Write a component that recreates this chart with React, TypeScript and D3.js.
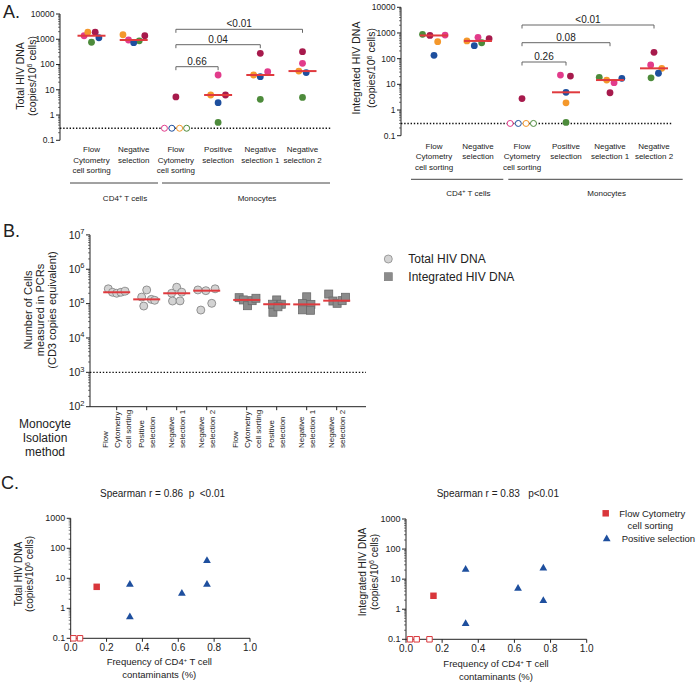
import React from 'react';
import * as d3 from 'd3';

const FONT = "'Liberation Sans', Arial, Helvetica, sans-serif";
const TEXT = '#222';
const AXIS = '#222';
const MEDIAN = '#e03a3e';

// ---------- Panel A data (donor order: pink, orange, dark red, green, blue) ----------
const DONORS = ['pink', 'orange', 'darkred', 'green', 'blue'];
const DONOR_COLORS = ['#e23b8b', '#f4982c', '#a71a4c', '#4d8b3b', '#1e4f9e'];
const A_CATEGORIES = ['CD4 FCS', 'CD4 Neg', 'Mono FCS', 'Mono Pos', 'Mono Neg1', 'Mono Neg2'];
const A_CATEGORY_LABELS = [
  ['Flow', 'Cytometry', 'cell sorting'],
  ['Negative', 'selection'],
  ['Flow', 'Cytometry', 'cell sorting'],
  ['Positive', 'selection'],
  ['Negative', 'selection 1'],
  ['Negative', 'selection 2'],
];
const A_TICKS = [0.1, 1, 10, 100, 1000, 10000];
const LOD = 0.3;
// null = undetectable (plotted as open symbol at the detection limit)
const TOTAL_DNA = [
  [1380, 1900, 1900, 760, 1150],
  [935, 1510, 1380, 870, 730],
  [null, null, 5.2, null, null],
  [38.5, 6.2, 6.2, 0.51, 3.1],
  [52, 38.5, 277, 4.2, 33],
  [112, 55, 322, 5.0, 48],
];
const TOTAL_SPREAD = [
  [-2, -1, 1, 0, 2],
  [-1.4, -2.9, 3, 1.5, 0],
  [-3.1, 1, 0, 2.9, -1.1],
  [0, -2, 2, 0, 0],
  [2, -1.8, 0, 0, 0],
  [0, -1, 0, 0, 1],
];
const INTEGRATED_DNA = [
  [830, 457, 800, 890, 135],
  [680, 490, 600, 417, 320],
  [null, null, 2.8, null, null],
  [23, 1.9, 21, 0.33, 4.9],
  [11.6, 14.7, 4.7, 18.8, 17.2],
  [57, 42, 177, 18, 27],
];
const INTEGRATED_SPREAD = [
  [3, 1, -1.1, -3.1, 0],
  [0, -3, 3, 1, -1],
  [-3.2, 1.1, 0, 3.1, -1],
  [-1.5, 0, 1.2, 0, 0],
  [1.1, -0.9, 0, -2.9, 3.2],
  [-0.9, 2.1, 0, -0.8, 1.2],
];
const TOTAL_P = [
  { from: 2, to: 3, label: '0.66' },
  { from: 2, to: 4, label: '0.04' },
  { from: 2, to: 5, label: '<0.01' },
];
const INTEGRATED_P = [
  { from: 2, to: 3, label: '0.26' },
  { from: 2, to: 4, label: '0.08' },
  { from: 2, to: 5, label: '<0.01' },
];

// ---------- Panel B data ----------
const B_CATEGORY_LABELS = [
  ['Flow', 'Cytometry', 'cell sorting'],
  ['Positive', 'selection'],
  ['Negative', 'selection 1'],
  ['Negative', 'selection 2'],
];
const B_TICKS = [1e2, 1e3, 1e4, 1e5, 1e6, 1e7];
const B_THRESHOLD = 1e3;
const B_TOTAL = [
  [2.7e5, 2.14e5, 2.0e5, 2.14e5, 2.3e5],
  [2.5e5, 1.55e5, 1.33e5, 1.25e5, 8.5e4],
  [3.0e5, 2.15e5, 2.0e5, 1.19e5, 1.2e5],
  [2.5e5, 2.38e5, 2.7e5, 1.02e5, 6.5e4],
];
const B_TOTAL_SPREAD = [
  [-2, -1, 0, 1, 2],
  [0, -1.2, 1.1, 1.9, -0.7],
  [0, 1.2, -1.2, -1, 0.8],
  [-2.1, -0.2, 2, 1.2, -1.4],
];
const B_INTEGRATED = [
  [1.49e5, 1.28e5, 8.7e4, 1.22e5, 1.43e5],
  [1.28e5, 9.6e4, 9.6e4, 5.6e4, 8.1e4],
  [1.58e5, 1.0e5, 9.5e4, 6.6e4, 6.4e4],
  [1.9e5, 1.19e5, 1.02e5, 1.22e5, 1.53e5],
];
const B_INTEGRATED_SPREAD = [
  [-1.8, -0.8, 0.2, 1.3, 2.2],
  [0, -1, 1.1, -0.9, 0.3],
  [0, -1, 1, -1, 0.9],
  [-1.9, -0.9, 0.1, 1.3, 2.1],
];

// ---------- Panel C data ----------
const C_X_TICKS = [0, 0.2, 0.4, 0.6, 0.8, 1.0];
const C_Y_TICKS = [0.1, 1, 10, 100, 1000];
const C_FLOW_TOTAL = [{ x: 0.145, y: 5.2 }];
const C_FLOW_TOTAL_UND = [0.015, 0.052];
const C_POS_TOTAL = [
  { x: 0.76, y: 38.5 }, { x: 0.76, y: 6.2 }, { x: 0.33, y: 6.2 }, { x: 0.33, y: 0.51 }, { x: 0.62, y: 3.1 },
];
const C_FLOW_INT = [{ x: 0.152, y: 2.8 }];
const C_FLOW_INT_UND = [0.022, 0.059, 0.13];
const C_POS_INT = [
  { x: 0.76, y: 23 }, { x: 0.76, y: 1.9 }, { x: 0.33, y: 21 }, { x: 0.33, y: 0.33 }, { x: 0.62, y: 4.9 },
];

// ---------- helpers ----------
function logMinors(domain: number[]) {
  const out: number[] = [];
  const a = Math.round(Math.log10(domain[0]));
  const b = Math.round(Math.log10(domain[1]));
  for (let e = a; e < b; e++) for (let k = 2; k < 10; k++) out.push(k * Math.pow(10, e));
  return out;
}

function LogAxis({ x, scale, ticks, fmt, fontSize, majorLen = 4, minorLen = 2 }: any) {
  const dom = scale.domain();
  return (
    <g>
      <line x1={x} x2={x} y1={scale(dom[0])} y2={scale(dom[1])} stroke={AXIS} strokeWidth={1} />
      {logMinors(dom).map((v, i) => (
        <line key={'m' + i} x1={x - minorLen} x2={x} y1={scale(v)} y2={scale(v)} stroke={AXIS} strokeWidth={0.6} />
      ))}
      {ticks.map((v: number, i: number) => (
        <g key={'t' + i}>
          <line x1={x - majorLen} x2={x} y1={scale(v)} y2={scale(v)} stroke={AXIS} strokeWidth={1} />
          <text x={x - majorLen - 1.5} y={scale(v)} dy="0.35em" textAnchor="end" fontSize={fontSize} fill={TEXT}>
            {fmt(v)}
          </text>
        </g>
      ))}
    </g>
  );
}

const plainFmt = (v: number) => (v < 1 ? String(v) : d3.format('d')(v));

function CopiesLabel() {
  return (
    <>
      (copies/10<tspan dy={-3.5} fontSize={7}>6</tspan>
      <tspan dy={3.5}> cells)</tspan>
    </>
  );
}

function CD4Label({ suffix }: { suffix: string }) {
  return (
    <>
      CD4<tspan dy={-3} fontSize={5.5}>+</tspan>
      <tspan dy={3}>{suffix}</tspan>
    </>
  );
}

// ---------- Panel A ----------
function PanelA({ cfg, values, spread, pvals, title }: any) {
  const y = d3.scaleLog().domain([0.1, 10000]).range(cfg.yRange);
  const x = d3.scalePoint<number>().domain(d3.range(A_CATEGORIES.length)).range(cfg.xRange);
  const step = 3.7;
  const r = 3.4;
  return (
    <g>
      <LogAxis x={cfg.axisX} scale={y} ticks={A_TICKS} fmt={plainFmt} fontSize={8.5} />
      <line x1={cfg.axisX} x2={cfg.lodX2} y1={y(LOD)} y2={y(LOD)} stroke="#111" strokeWidth={1.4} strokeDasharray="1.4,1.8" />
      <text transform={`translate(${cfg.titleX[0]},${cfg.titleCY}) rotate(-90)`} textAnchor="middle" dy="0.35em" fontSize={10.5} fill={TEXT}>
        {title}
      </text>
      <text transform={`translate(${cfg.titleX[1]},${cfg.titleCY}) rotate(-90)`} textAnchor="middle" dy="0.35em" fontSize={10.5} fill={TEXT}>
        <CopiesLabel />
      </text>
      {values.map((grp: (number | null)[], gi: number) => (
        <g key={'g' + gi}>
          {grp.map((v, di) => {
            const cx = (x(gi) as number) + spread[gi][di] * step;
            if (v == null)
              return <circle key={di} cx={cx} cy={y(LOD)} r={r - 0.4} fill="#fff" stroke={DONOR_COLORS[di]} strokeWidth={1} />;
            return <circle key={di} cx={cx} cy={y(v)} r={r} fill={DONOR_COLORS[di]} />;
          })}
          {grp.every((v) => v != null) && (
            <line
              x1={(x(gi) as number) - 14}
              x2={(x(gi) as number) + 14}
              y1={y(d3.median(grp as number[]) as number)}
              y2={y(d3.median(grp as number[]) as number)}
              stroke={MEDIAN}
              strokeWidth={2}
            />
          )}
        </g>
      ))}
      {A_CATEGORY_LABELS.map((lines, i) => (
        <text key={'c' + i} x={x(i)} y={cfg.labelY} textAnchor="middle" fontSize={8} fill={TEXT}>
          {lines.map((ln, j) => (
            <tspan key={j} x={x(i)} dy={j === 0 ? 0 : 10.5}>
              {ln}
            </tspan>
          ))}
        </text>
      ))}
      {cfg.groups.map((g: any, i: number) => (
        <g key={'gr' + i}>
          <line x1={g.x1} x2={g.x2} y1={cfg.groupLineY} y2={cfg.groupLineY} stroke="#444" strokeWidth={1} />
          <text x={g.tx} y={cfg.groupTextY} textAnchor="middle" fontSize={8} fill={TEXT}>
            {i === 0 ? <CD4Label suffix=" T cells" /> : 'Monocytes'}
          </text>
        </g>
      ))}
      {pvals.map((p: any, i: number) => {
        const by = cfg.bracketY[i];
        const x1 = x(p.from) as number;
        const x2 = x(p.to) as number;
        return (
          <g key={'p' + i}>
            <path d={`M${x1},${by + 3.5}V${by}H${x2}V${by + 3.5}`} fill="none" stroke="#666" strokeWidth={1} />
            <text x={(x1 + x2) / 2} y={by - 2.2} textAnchor="middle" fontSize={10} fill={TEXT}>
              {p.label}
            </text>
          </g>
        );
      })}
    </g>
  );
}

// ---------- Panel B ----------
function PanelB() {
  const y = d3.scaleLog().domain([1e2, 1e7]).range([406.7, 234.9]);
  const xi = d3.scaleLinear().domain([0, 7 + 1 / 3]).range([116.7, 336.7]);
  const pos = (i: number) => xi(i + (i >= 4 ? 1 / 3 : 0));
  const step = 4.2;
  const expFmt = (v: number) => (
    <>
      10<tspan dy={-4.5} fontSize={7.5}>{Math.round(Math.log10(v))}</tspan>
    </>
  );
  const axisX = 90;
  const axisEnd = 366;
  const allLabels = [...B_CATEGORY_LABELS, ...B_CATEGORY_LABELS];
  return (
    <g>
      <LogAxis x={axisX} scale={y} ticks={B_TICKS} fmt={expFmt} fontSize={10.5} majorLen={4} minorLen={2} />
      <line x1={axisX} x2={axisEnd} y1={y(1e2)} y2={y(1e2)} stroke={AXIS} strokeWidth={1} />
      <line x1={axisX} x2={axisEnd} y1={y(B_THRESHOLD)} y2={y(B_THRESHOLD)} stroke="#111" strokeWidth={1.4} strokeDasharray="1.4,1.8" />
      {allLabels.map((lines, i) => (
        <g key={'bl' + i}>
          <line x1={pos(i)} x2={pos(i)} y1={y(1e2)} y2={y(1e2) + 3.5} stroke={AXIS} strokeWidth={1} />
          {lines.map((ln, j) => (
            <text
              key={j}
              transform={`translate(${pos(i) + (j - (lines.length - 1) / 2) * 11.5},448) rotate(-90)`}
              dy="0.35em"
              textAnchor="start"
              fontSize={8}
              fill={TEXT}
            >
              {ln}
            </text>
          ))}
        </g>
      ))}
      {B_TOTAL.map((grp, gi) => (
        <g key={'bt' + gi}>
          {grp.map((v, k) => (
            <circle key={k} cx={pos(gi) + B_TOTAL_SPREAD[gi][k] * step} cy={y(v)} r={4} fill="#d3d3d3" stroke="#7d7d7d" strokeWidth={0.8} />
          ))}
          <line x1={pos(gi) - 13.5} x2={pos(gi) + 13.5} y1={y(d3.median(grp) as number)} y2={y(d3.median(grp) as number)} stroke={MEDIAN} strokeWidth={2} />
        </g>
      ))}
      {B_INTEGRATED.map((grp, gi) => {
        const c = pos(gi + 4);
        return (
          <g key={'bi' + gi}>
            {grp.map((v, k) => (
              <rect key={k} x={c + B_INTEGRATED_SPREAD[gi][k] * step - 4} y={y(v) - 4} width={8} height={8} fill="#8b8b8b" stroke="#6a6a6a" strokeWidth={0.8} />
            ))}
            <line x1={c - 13.5} x2={c + 13.5} y1={y(d3.median(grp) as number)} y2={y(d3.median(grp) as number)} stroke={MEDIAN} strokeWidth={2} />
          </g>
        );
      })}
      {['Number of Cells', 'measured in PCRs', '(CD3 copies equivalent)'].map((t, i) => (
        <text key={t} transform={`translate(${28.3 + i * 11.7},310) rotate(-90)`} textAnchor="middle" dy="0.35em" fontSize={11} fill={TEXT}>
          {t}
        </text>
      ))}
      {['Monocyte', 'Isolation', 'method'].map((t, i) => (
        <text key={t} x={45} y={428 + i * 13.8} textAnchor="middle" fontSize={12} fill={TEXT}>
          {t}
        </text>
      ))}
      <circle cx={388.3} cy={259} r={4} fill="#d3d3d3" stroke="#8a8a8a" strokeWidth={0.8} />
      <text x={408.3} y={259} dy="0.35em" fontSize={12} fill={TEXT}>Total HIV DNA</text>
      <rect x={384.3} y={272.7} width={8} height={8} fill="#8b8b8b" stroke="#777" strokeWidth={0.6} />
      <text x={408.3} y={276.7} dy="0.35em" fontSize={12} fill={TEXT}>Integrated HIV DNA</text>
    </g>
  );
}

// ---------- Panel C ----------
function PanelC({ cfg, flow, flowUnd, pos, title, spearman }: any) {
  const x = d3.scaleLinear().domain([0, 1]).range(cfg.xRange);
  const y = d3.scaleLog().domain([0.1, 1000]).range(cfg.yRange);
  const tri = d3.symbol(d3.symbolTriangle, 26)() as string;
  const sq = d3.symbol(d3.symbolSquare, 42)() as string;
  const sqOpen = d3.symbol(d3.symbolSquare, 30)() as string;
  const base = y(0.1);
  return (
    <g>
      <LogAxis x={x(0)} scale={y} ticks={C_Y_TICKS} fmt={plainFmt} fontSize={9} />
      <line x1={x(0)} x2={x(1)} y1={base} y2={base} stroke={AXIS} strokeWidth={1} />
      {C_X_TICKS.map((t) => (
        <g key={t}>
          <line x1={x(t)} x2={x(t)} y1={base} y2={base + 3.5} stroke={AXIS} strokeWidth={1} />
          <text x={x(t)} y={base + 12.5} textAnchor="middle" fontSize={10} fill={TEXT}>
            {d3.format('.1f')(t)}
          </text>
        </g>
      ))}
      <text transform={`translate(${cfg.titleX[0]},${cfg.titleCY}) rotate(-90)`} textAnchor="middle" dy="0.35em" fontSize={10} fill={TEXT}>
        {title}
      </text>
      <text transform={`translate(${cfg.titleX[1]},${cfg.titleCY}) rotate(-90)`} textAnchor="middle" dy="0.35em" fontSize={10} fill={TEXT}>
        <CopiesLabel />
      </text>
      <text x={cfg.xTitleCX} y={cfg.xTitleY[0]} textAnchor="middle" fontSize={9.5} fill={TEXT}>
        Frequency of <CD4Label suffix=" T cell" />
      </text>
      <text x={cfg.xTitleCX} y={cfg.xTitleY[1]} textAnchor="middle" fontSize={9.5} fill={TEXT}>
        contaminants (%)
      </text>
      <text x={cfg.spearmanX} y={496.8} fontSize={10} fill={TEXT} style={{ whiteSpace: 'pre' }}>
        {spearman}
      </text>
      {flowUnd.map((v: number, i: number) => (
        <path key={'u' + i} d={sqOpen} transform={`translate(${x(v)},${base})`} fill="#fff" stroke="#d9363b" strokeWidth={1} />
      ))}
      {flow.map((d: any, i: number) => (
        <path key={'f' + i} d={sq} transform={`translate(${x(d.x)},${y(d.y)})`} fill="#d9363b" />
      ))}
      {pos.map((d: any, i: number) => (
        <path key={'p' + i} d={tri} transform={`translate(${x(d.x)},${y(d.y)})`} fill="#1e4f9e" />
      ))}
    </g>
  );
}

function LegendC() {
  const tri = d3.symbol(d3.symbolTriangle, 26)() as string;
  const sq = d3.symbol(d3.symbolSquare, 42)() as string;
  return (
    <g>
      <path d={sq} transform="translate(605.7,513.3)" fill="#d9363b" />
      <text x={619.3} y={513.3} dy="0.35em" fontSize={9.5} fill={TEXT}>Flow Cytometry</text>
      <text x={650.3} y={525.7} dy="0.35em" textAnchor="middle" fontSize={9.5} fill={TEXT}>cell sorting</text>
      <path d={tri} transform="translate(606.7,539)" fill="#1e4f9e" />
      <text x={621.7} y={539} dy="0.35em" fontSize={9.5} fill={TEXT}>Positive selection</text>
    </g>
  );
}

const A_LEFT = {
  axisX: 60,
  yRange: [140.3, 14],
  xRange: [91.5, 302.5],
  lodX2: 332,
  titleX: [20, 32],
  titleCY: 76,
  labelY: 152,
  groupLineY: 183,
  groupTextY: 201,
  groups: [
    { x1: 70, x2: 158, tx: 125 },
    { x1: 162, x2: 330, tx: 257 },
  ],
  bracketY: [66.7, 44.7, 29.3],
};
const A_RIGHT = {
  axisX: 401,
  yRange: [135.7, 7.3],
  xRange: [434, 654],
  lodX2: 673,
  titleX: [356.7, 371.7],
  titleCY: 68,
  labelY: 148.7,
  groupLineY: 179.3,
  groupTextY: 196.3,
  groups: [
    { x1: 411, x2: 503.3, tx: 468.3 },
    { x1: 508.3, x2: 682.7, tx: 606.7 },
  ],
  bracketY: [62, 42.7, 25],
};
const C_LEFT = {
  xRange: [70.7, 250],
  yRange: [638.3, 518.3],
  titleX: [18.3, 29.5],
  titleCY: 574,
  xTitleCX: 159.3,
  xTitleY: [665, 678.3],
  spearmanX: 100,
};
const C_RIGHT = {
  xRange: [406, 586.7],
  yRange: [639.3, 519],
  titleX: [362, 374],
  titleCY: 572,
  xTitleCX: 496,
  xTitleY: [666.6, 679.5],
  spearmanX: 436.7,
};

export default function App() {
  return (
    <svg
      width={696}
      height={682}
      viewBox="0 0 696 682"
      style={{ position: 'absolute', left: 0, top: 0, background: '#fff' }}
      fontFamily={FONT}
    >
      <rect width={696} height={682} fill="#fff" />
      <text x={3} y={18} fontSize={18} fill={TEXT}>A.</text>
      <text x={3} y={237} fontSize={18} fill={TEXT}>B.</text>
      <text x={1} y={489} fontSize={18} fill={TEXT}>C.</text>
      <PanelA cfg={A_LEFT} values={TOTAL_DNA} spread={TOTAL_SPREAD} pvals={TOTAL_P} title="Total HIV DNA" />
      <PanelA cfg={A_RIGHT} values={INTEGRATED_DNA} spread={INTEGRATED_SPREAD} pvals={INTEGRATED_P} title="Integrated HIV DNA" />
      <PanelB />
      <PanelC cfg={C_LEFT} flow={C_FLOW_TOTAL} flowUnd={C_FLOW_TOTAL_UND} pos={C_POS_TOTAL} title="Total HIV DNA" spearman="Spearman r = 0.86  p  <0.01" />
      <PanelC cfg={C_RIGHT} flow={C_FLOW_INT} flowUnd={C_FLOW_INT_UND} pos={C_POS_INT} title="Integrated HIV DNA" spearman="Spearman r = 0.83   p<0.01" />
      <LegendC />
    </svg>
  );
}
